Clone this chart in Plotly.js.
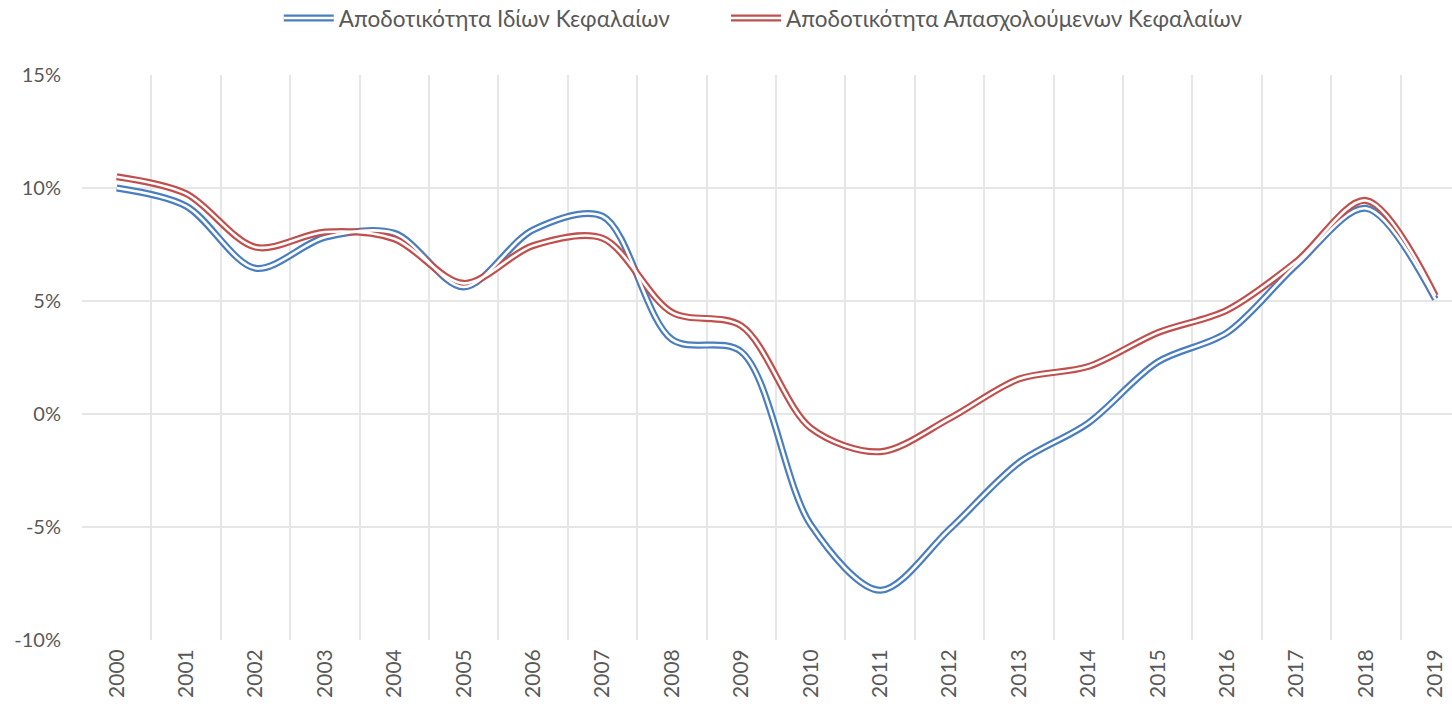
<!DOCTYPE html>
<html>
<head>
<meta charset="utf-8">
<script src="https://cdn.plot.ly/plotly-3.0.1.min.js"></script>
<style>html,body{margin:0;padding:0;background:#fff;}#chart{width:1452px;height:708px;}</style>
</head>
<body>
<div id="chart"></div>
<script>
const years = ["2000","2001","2002","2003","2004","2005","2006","2007","2008","2009","2010","2011","2012","2013","2014","2015","2016","2017","2018","2019"];
const roe = [10.0, 9.2, 6.45, 7.82, 8.0, 5.62, 8.15, 8.75, 3.3, 2.75, -4.9, -7.8, -5.1, -2.15, -0.4, 2.3, 3.6, 6.6, 9.1, 5.08];
const roce = [10.5, 9.75, 7.38, 8.05, 7.75, 5.78, 7.45, 7.78, 4.5, 3.9, -0.62, -1.67, -0.2, 1.55, 2.1, 3.6, 4.6, 6.75, 9.45, 5.23];
const names = ["Αποδοτικότητα Ιδίων Κεφαλαίων", "Αποδοτικότητα Απασχολούμενων Κεφαλαίων"];
const colors = ["#4a7ebf", "#c0504d"];
const yTickVals = [-10, -5, 0, 5, 10, 15];
const yTickText = ["-10%", "-5%", "0%", "5%", "10%", "15%"];

const SMOOTH = 0.9;
const series = [roe, roce];
const legendIds = [["legend", "legend2"], ["legend3", "legend4"]];
const traces = [];
series.forEach((vals, i) => {
  traces.push({
    x: years, y: vals, type: "scatter", mode: "lines", name: names[i], legend: legendIds[i][0],
    line: {color: colors[i], width: 7, shape: "spline", smoothing: SMOOTH},
    hoverinfo: "skip"
  });
});
series.forEach((vals, i) => {
  traces.push({
    x: years, y: vals, type: "scatter", mode: "lines", name: names[i], legend: legendIds[i][1],
    line: {color: "#ffffff", width: 2.6, shape: "spline", smoothing: SMOOTH},
    hoverinfo: "skip"
  });
});

function leg(xpos, visibleText) {
  return {
    orientation: "h", xref: "container", x: xpos, xanchor: "left",
    yref: "container", y: 0.974, yanchor: "middle",
    itemwidth: 50, bgcolor: "rgba(0,0,0,0)",
    font: {size: 22.5, color: visibleText ? "#595959" : "rgba(0,0,0,0)"}
  };
}

const layout = {
  width: 1452, height: 708,
  margin: {l: 82, r: 0, t: 75, b: 68},
  paper_bgcolor: "#ffffff", plot_bgcolor: "#ffffff",
  font: {family: "Lato, 'Open Sans', sans-serif", size: 20, color: "#595959"},
  showlegend: true,
  legend: leg(0.192, true),
  legend2: leg(0.192, false),
  legend3: leg(0.5, true),
  legend4: leg(0.5, false),
  xaxis: {
    type: "category", range: [-0.5, 19.24], tickson: "boundaries",
    showgrid: true, gridcolor: "#e6e6e6", gridwidth: 2,
    tickangle: -90, ticks: "", showline: false, zeroline: false,
    ticklabelstandoff: 4, tickfont: {size: 21, color: "#595959"}
  },
  yaxis: {
    range: [-10, 15], tickmode: "array", tickvals: yTickVals, ticktext: yTickText,
    showgrid: true, gridcolor: "#e6e6e6", gridwidth: 2, zeroline: false, showline: false,
    ticks: "", ticklabelstandoff: 20, tickfont: {size: 20, color: "#595959"}
  }
};

Plotly.newPlot("chart", traces, layout, {displayModeBar: false, staticPlot: true});
</script>
</body>
</html>
